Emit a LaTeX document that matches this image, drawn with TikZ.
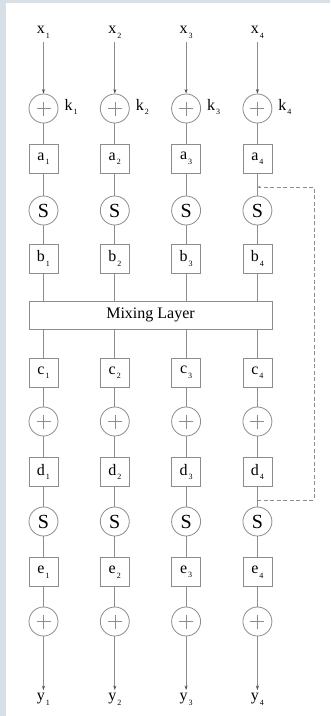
\documentclass[tikz,border=0pt]{standalone}
\usepackage{fontspec}
\setmainfont{Liberation Serif}
\usetikzlibrary{arrows.meta}
\definecolor{bgc}{RGB}{214,224,230}
\definecolor{lc}{RGB}{140,140,140}
\newcommand\lbl[2]{#1\kern1pt\raisebox{-4.5pt}{\fontsize{8}{9}\selectfont #2}}
\begin{document}
\begin{tikzpicture}[x=1pt,y=-1pt,
  wire/.style={draw=lc, line width=0.8pt},
  cross/.style={fill=lc, draw=none},
  arr/.style={wire, -{Stealth[length=4.5pt,width=3pt,color=black!70]}},
  dwire/.style={wire, dash pattern=on 4pt off 2.5pt, -{Stealth[length=3pt,width=2.5pt]}},
  lab/.style={font=\fontsize{16}{18}\selectfont},
  box/.style={draw=lc, line width=0.8pt, minimum width=29pt, minimum height=29pt, inner sep=0pt, font=\fontsize{16}{18}\selectfont},
  ring/.style={draw=lc, circle, line width=0.8pt, minimum size=29pt, inner sep=0pt},
  sring/.style={ring, font=\fontsize{20}{20}\selectfont}
]
\fill[bgc] (0,0) rectangle (330,716);
\fill[white] (6,3) rectangle (330,716);
\useasboundingbox (0,0) rectangle (330,716);

\node[box, minimum width=243pt, minimum height=28pt] (mix) at (150.5,315) {Mixing Layer};

\foreach \i/\x in {1/43.5,2/114.8,3/186.1,4/257.4} {
  \node[lab] (x\i) at (\x,32.5) {\lbl{x}{\i}};
  \node[ring] (p\i) at (\x,108.5) {};
  \node[lab, inner sep=0pt] (k\i) at (\x+27.5,107) {\lbl{k}{\i}};
  \node[box] (a\i) at (\x,158.5) {\lbl{a}{\i}};
  \node[sring] (s\i) at (\x,210.5) {S};
  \node[box] (b\i) at (\x,258.5) {\lbl{b}{\i}};
  \node[box] (c\i) at (\x,372.5) {\lbl{c}{\i}};
  \node[ring] (q\i) at (\x,421.5) {};
  \node[box] (d\i) at (\x,472) {\lbl{d}{\i}};
  \node[sring] (t\i) at (\x,521.5) {S};
  \node[box] (e\i) at (\x,572) {\lbl{e}{\i}};
  \node[ring] (r\i) at (\x,621.5) {};
  \node[lab] (y\i) at (\x,699.5) {\lbl{y}{\i}};
  \draw[arr] (x\i) -- (p\i);
  \draw[wire] (p\i) -- (a\i) -- (s\i) -- (b\i) -- (b\i |- mix.north);
  \draw[wire] (c\i |- mix.south) -- (c\i) -- (q\i) -- (d\i) -- (t\i) -- (e\i) -- (r\i);
  \draw[arr] (r\i) -- (y\i);
  \foreach \n in {p,q,r} {
    \fill[cross] ([shift={(-7pt,-0.3pt)}]\n\i.center) rectangle ([shift={(7pt,0.3pt)}]\n\i.center);
    \fill[cross] ([shift={(-0.3pt,-7pt)}]\n\i.center) rectangle ([shift={(0.3pt,7pt)}]\n\i.center);
  }
}

\coordinate (dbot) at (257.4,500);
\coordinate (dtop) at (257.4,187);
\draw[dwire] (dbot) -- ++(56.6,0) |- (dtop);
\end{tikzpicture}
\end{document}
